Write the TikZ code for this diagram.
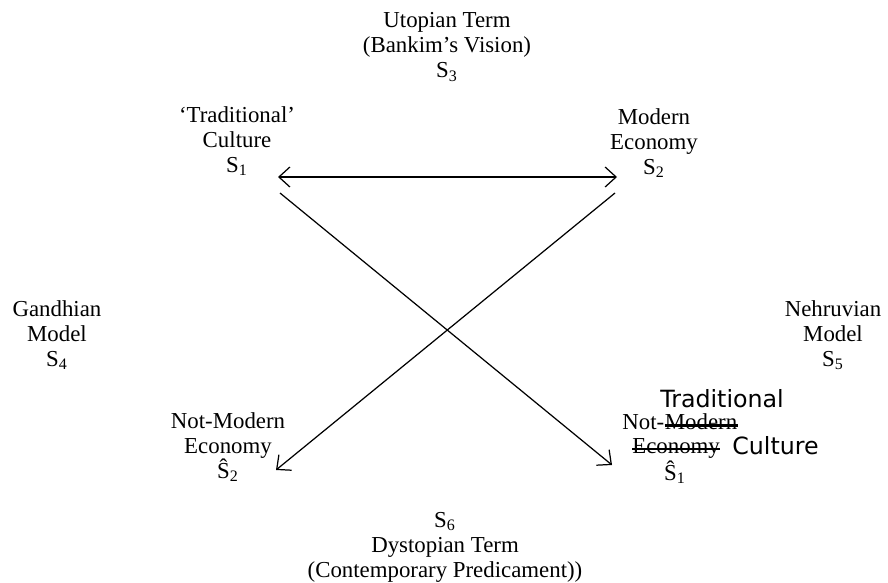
\documentclass[tikz,border=0pt]{standalone}
\usepackage{fontspec}
\setmainfont{Liberation Serif}
\newfontfamily\handfont{DejaVu Sans}
\usetikzlibrary{positioning,arrows.meta}
\tikzset{
    lbl/.style={align=center,inner sep=0pt,font=\fontsize{13}{14.2}\selectfont},
    hand/.style={inner sep=0pt,font=\handfont\fontsize{13.5}{14}\selectfont},
    arr/.style={-{Straight Barb[length=2.2mm,width=4mm]},line width=0.7pt},
    darr/.style={{Straight Barb[length=2.2mm,width=4mm]}-{Straight Barb[length=2.2mm,width=4mm]},line width=0.7pt},
    strike/.style={line width=1.6pt},
}
\newcommand{\Sterm}[2][S]{#1\textsubscript{#2}}
\begin{document}
\begin{tikzpicture}[x=0.02cm,y=-0.02cm]
\useasboundingbox (0,0) rectangle (888,582);
% the six terms
\node[lbl] (utop) at (447,47)  {Utopian Term\\(Bankim’s Vision)\\\Sterm{3}};
\node[lbl] (trad) at (237,141) {‘Traditional’\\Culture\\\Sterm{1}};
\node[lbl] (modn) at (654,143) {Modern\\Economy\\\Sterm{2}};
\node[lbl] (gand) at (57,335)  {Gandhian\\Model\\\Sterm{4}};
\node[lbl] (nehr) at (833,335) {Nehruvian\\Model\\\Sterm{5}};
\node[lbl] (notm) at (228,447) {Not-Modern\\Economy\\\Sterm[Ŝ]{2}};
\node[lbl] (dyst) at (445,547) {\Sterm{6}\\Dystopian Term\\(Contemporary Predicament))};
% corrected corner
\node[lbl,anchor=west] (nt) at (622,422) {Not-};
\node[lbl,base right=0pt of nt] (mdn) {Modern};
\node[lbl,anchor=west] (eco) at (632,448) {Economy};
\node[hand,anchor=west] (cul) at (732,446) {Culture};
\node[hand] (trd) at (722,399) {Traditional};
\node[lbl] (sh1) at (675,472) {\Sterm[Ŝ]{1}};
\draw[strike] (mdn.mid west) -- (mdn.mid east);
\draw[strike] (eco.mid west) -- (eco.mid east);
% arrows
\coordinate (tl) at (278,177);
\coordinate (tr) at (617,177);
\coordinate (dl) at (280,193);
\coordinate (dr) at (612,465);
\coordinate (ur) at (615,193);
\coordinate (bl) at (276,470);
\draw[darr] (tl) -- (tr);
\draw[arr] (dl) -- (dr);
\draw[arr] (ur) -- (bl);
\end{tikzpicture}
\end{document}
